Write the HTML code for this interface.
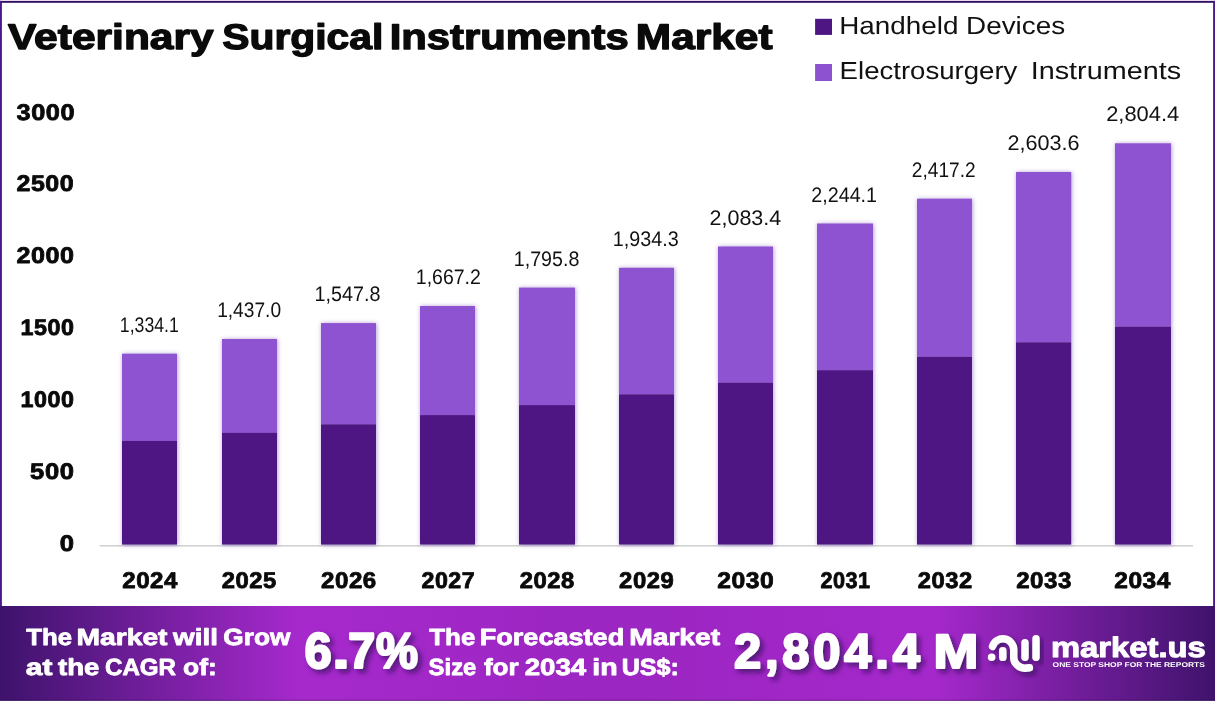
<!DOCTYPE html>
<html lang="en"><head><meta charset="utf-8">
<title>Veterinary Surgical Instruments Market</title>
<style>
html,body{margin:0;padding:0;background:#fff;}
body{width:1215px;height:703px;overflow:hidden;}
svg{display:block;font-family:"Liberation Sans",Arial,Helvetica,sans-serif;text-rendering:geometricPrecision;}
</style></head><body>
<svg width="1215" height="703" viewBox="0 0 1215 703" role="img" aria-label="Veterinary Surgical Instruments Market bar chart">
<defs>
<linearGradient id="bg" x1="0" y1="0" x2="1" y2="0"><stop offset="0" stop-color="#3E136C"/><stop offset="0.245" stop-color="#A629CC"/><stop offset="0.5" stop-color="#9B26C1"/><stop offset="0.77" stop-color="#A528CB"/><stop offset="1" stop-color="#3F136C"/></linearGradient>
<filter id="ts" x="-10%" y="-25%" width="125%" height="160%"><feDropShadow dx="3.5" dy="3.5" stdDeviation="2.6" flood-color="#2e0a55" flood-opacity="0.7"/></filter>
<filter id="bs" x="-20%" y="-5%" width="140%" height="110%"><feDropShadow dx="0.6" dy="0.3" stdDeviation="2.1" flood-color="#6a3fae" flood-opacity="0.55"/></filter>
</defs>
<rect x="0" y="0" width="1215" height="703" fill="#fff"/>
<rect x="0" y="0" width="1215" height="1" fill="#fcf4ff"/>
<rect x="0" y="0.9" width="1215" height="1.9" fill="#33105f"/>
<rect x="0" y="0.9" width="1.9" height="606" fill="#4a1a8a"/>
<rect x="1213.1" y="0.9" width="1.9" height="606" fill="#4a1a8a"/>
<g font-weight="700" fill="#0a0a0a" stroke="#0a0a0a" stroke-width="1.3" stroke-linejoin="round">
<text y="49" font-size="35.76"><tspan x="8.14" textLength="205.55" lengthAdjust="spacingAndGlyphs">Veterinary</tspan> <tspan x="222.34" textLength="160.98" lengthAdjust="spacingAndGlyphs">Surgical</tspan> <tspan x="389.65" textLength="239.04" lengthAdjust="spacingAndGlyphs">Instruments</tspan> <tspan x="635.81" textLength="136.79" lengthAdjust="spacingAndGlyphs">Market</tspan></text>
</g>
<rect x="815.1" y="18.8" width="16.9" height="16.1" fill="#4D1682"/>
<rect x="815.1" y="64" width="16.9" height="17" fill="#8D52D0"/>
<g font-weight="400" fill="#111">
<text x="839.20" y="34" font-size="24.71" textLength="225.92" lengthAdjust="spacingAndGlyphs">Handheld Devices</text>
<text y="79" font-size="24.71"><tspan x="839.61" textLength="177.80" lengthAdjust="spacingAndGlyphs">Electrosurgery</tspan> <tspan x="1030.73" textLength="150.42" lengthAdjust="spacingAndGlyphs">Instruments</tspan></text>
</g>
<g font-weight="700" fill="#0a0a0a" stroke="#0a0a0a" stroke-width="0.8" stroke-linejoin="round">
<text x="59.77" y="551" font-size="22.59" letter-spacing="0.5" textLength="14.82" lengthAdjust="spacingAndGlyphs">0</text>
<text x="30.14" y="479" font-size="22.59" letter-spacing="0.5" textLength="44.32" lengthAdjust="spacingAndGlyphs">500</text>
<text x="20.52" y="407" font-size="22.59" letter-spacing="0.5" textLength="53.93" lengthAdjust="spacingAndGlyphs">1000</text>
<text x="20.52" y="335" font-size="22.59" letter-spacing="0.5" textLength="53.93" lengthAdjust="spacingAndGlyphs">1500</text>
<text x="16.43" y="263" font-size="22.59" letter-spacing="0.5" textLength="58.17" lengthAdjust="spacingAndGlyphs">2000</text>
<text x="16.44" y="191" font-size="22.59" letter-spacing="0.5" textLength="57.80" lengthAdjust="spacingAndGlyphs">2500</text>
<text x="16.59" y="120" font-size="22.59" letter-spacing="0.5" textLength="58.55" lengthAdjust="spacingAndGlyphs">3000</text>
</g>
<rect x="99.7" y="545" width="1093.3" height="1.6" fill="#d2d2d2"/>
<g filter="url(#bs)">
<rect x="122.0" y="353.7" width="55.0" height="87.2" fill="#8D52D0"/>
<rect x="122.0" y="440.9" width="55.0" height="103.7" fill="#4D1682"/>
<rect x="222.0" y="339.0" width="55.0" height="94.0" fill="#8D52D0"/>
<rect x="222.0" y="432.9" width="55.0" height="111.7" fill="#4D1682"/>
<rect x="321.0" y="323.1" width="55.0" height="101.2" fill="#8D52D0"/>
<rect x="321.0" y="424.3" width="55.0" height="120.3" fill="#4D1682"/>
<rect x="420.0" y="306.0" width="55.0" height="109.0" fill="#8D52D0"/>
<rect x="420.0" y="415.1" width="55.0" height="129.5" fill="#4D1682"/>
<rect x="519.0" y="287.6" width="56.0" height="117.4" fill="#8D52D0"/>
<rect x="519.0" y="405.1" width="56.0" height="139.5" fill="#4D1682"/>
<rect x="619.0" y="267.8" width="55.0" height="126.5" fill="#8D52D0"/>
<rect x="619.0" y="394.3" width="55.0" height="150.3" fill="#4D1682"/>
<rect x="718.0" y="246.5" width="55.0" height="136.2" fill="#8D52D0"/>
<rect x="718.0" y="382.7" width="55.0" height="161.9" fill="#4D1682"/>
<rect x="817.0" y="223.5" width="56.0" height="146.8" fill="#8D52D0"/>
<rect x="817.0" y="370.2" width="56.0" height="174.4" fill="#4D1682"/>
<rect x="917.0" y="198.7" width="55.0" height="158.1" fill="#8D52D0"/>
<rect x="917.0" y="356.8" width="55.0" height="187.8" fill="#4D1682"/>
<rect x="1016.0" y="172.0" width="55.2" height="170.3" fill="#8D52D0"/>
<rect x="1016.0" y="342.3" width="55.2" height="202.3" fill="#4D1682"/>
<rect x="1115.0" y="143.3" width="56.0" height="183.4" fill="#8D52D0"/>
<rect x="1115.0" y="326.7" width="56.0" height="217.9" fill="#4D1682"/>
</g>
<g font-weight="400" fill="#111">
<text x="119.85" y="332" font-size="21.01" textLength="58.93" lengthAdjust="spacingAndGlyphs">1,334.1</text>
<text x="217.14" y="317" font-size="21.01" textLength="63.95" lengthAdjust="spacingAndGlyphs">1,437.0</text>
<text x="314.50" y="301" font-size="21.01" textLength="65.87" lengthAdjust="spacingAndGlyphs">1,547.8</text>
<text x="415.81" y="284" font-size="21.01" textLength="65.06" lengthAdjust="spacingAndGlyphs">1,667.2</text>
<text x="513.80" y="266" font-size="21.01" textLength="65.54" lengthAdjust="spacingAndGlyphs">1,795.8</text>
<text x="612.80" y="246" font-size="21.01" textLength="65.90" lengthAdjust="spacingAndGlyphs">1,934.3</text>
<text x="709.50" y="225" font-size="21.01" textLength="71.75" lengthAdjust="spacingAndGlyphs">2,083.4</text>
<text x="811.30" y="202" font-size="21.01" textLength="65.76" lengthAdjust="spacingAndGlyphs">2,244.1</text>
<text x="911.83" y="177" font-size="21.01" textLength="63.85" lengthAdjust="spacingAndGlyphs">2,417.2</text>
<text x="1007.49" y="150" font-size="21.01" textLength="72.05" lengthAdjust="spacingAndGlyphs">2,603.6</text>
<text x="1106.18" y="121" font-size="21.01" textLength="73.05" lengthAdjust="spacingAndGlyphs">2,804.4</text>
</g>
<g font-weight="700" fill="#0a0a0a" stroke="#0a0a0a" stroke-width="0.8" stroke-linejoin="round">
<text x="122.27" y="588" font-size="22.73" letter-spacing="0.5" textLength="55.69" lengthAdjust="spacingAndGlyphs">2024</text>
<text x="221.68" y="588" font-size="22.73" letter-spacing="0.5" textLength="55.00" lengthAdjust="spacingAndGlyphs">2025</text>
<text x="321.07" y="588" font-size="22.73" letter-spacing="0.5" textLength="55.71" lengthAdjust="spacingAndGlyphs">2026</text>
<text x="421.50" y="588" font-size="22.73" letter-spacing="0.5" textLength="53.72" lengthAdjust="spacingAndGlyphs">2027</text>
<text x="519.68" y="588" font-size="22.73" letter-spacing="0.5" textLength="55.07" lengthAdjust="spacingAndGlyphs">2028</text>
<text x="619.08" y="588" font-size="22.73" letter-spacing="0.5" textLength="55.22" lengthAdjust="spacingAndGlyphs">2029</text>
<text x="717.15" y="588" font-size="22.73" letter-spacing="0.5" textLength="57.11" lengthAdjust="spacingAndGlyphs">2030</text>
<text x="820.56" y="588" font-size="22.73" letter-spacing="0.5" textLength="50.04" lengthAdjust="spacingAndGlyphs">2031</text>
<text x="917.78" y="588" font-size="22.73" letter-spacing="0.5" textLength="54.96" lengthAdjust="spacingAndGlyphs">2032</text>
<text x="1016.17" y="588" font-size="22.73" letter-spacing="0.5" textLength="55.69" lengthAdjust="spacingAndGlyphs">2033</text>
<text x="1114.26" y="588" font-size="22.73" letter-spacing="0.5" textLength="56.72" lengthAdjust="spacingAndGlyphs">2034</text>
</g>
<rect x="0" y="606" width="1215" height="94.8" fill="url(#bg)"/>
<rect x="0" y="699.8" width="1215" height="1" fill="#1d0638" fill-opacity="0.45"/>
<g font-weight="700" fill="#fff" stroke="#fff" stroke-width="0.8" stroke-linejoin="round">
<text y="645" font-size="23.26"><tspan x="26.39" textLength="45.81" lengthAdjust="spacingAndGlyphs">The</tspan> <tspan x="76.40" textLength="91.15" lengthAdjust="spacingAndGlyphs">Market</tspan> <tspan x="173.12" textLength="44.86" lengthAdjust="spacingAndGlyphs">will</tspan> <tspan x="223.36" textLength="67.04" lengthAdjust="spacingAndGlyphs">Grow</tspan></text>
<text y="675" font-size="23.26"><tspan x="25.76" textLength="26.62" lengthAdjust="spacingAndGlyphs">at</tspan> <tspan x="57.95" textLength="41.43" lengthAdjust="spacingAndGlyphs">the</tspan> <tspan x="104.97" textLength="71.09" lengthAdjust="spacingAndGlyphs">CAGR</tspan> <tspan x="183.08" textLength="33.66" lengthAdjust="spacingAndGlyphs">of:</tspan></text>
</g>
<g font-weight="700" fill="#fff" stroke="#fff" stroke-width="2.2" stroke-linejoin="round" filter="url(#ts)">
<text y="668" font-size="50.36"><tspan x="304.50" textLength="27.14" lengthAdjust="spacingAndGlyphs">6</tspan><tspan x="332.55" textLength="16.95" lengthAdjust="spacingAndGlyphs">.</tspan><tspan x="347.90" textLength="27.26" lengthAdjust="spacingAndGlyphs">7</tspan><tspan x="376.08" textLength="41.98" lengthAdjust="spacingAndGlyphs">%</tspan></text>
</g>
<g font-weight="700" fill="#fff" stroke="#fff" stroke-width="0.8" stroke-linejoin="round">
<text y="645" font-size="23.26"><tspan x="429.29" textLength="46.01" lengthAdjust="spacingAndGlyphs">The</tspan> <tspan x="479.68" textLength="144.57" lengthAdjust="spacingAndGlyphs">Forecasted</tspan> <tspan x="629.20" textLength="90.96" lengthAdjust="spacingAndGlyphs">Market</tspan></text>
<text y="675" font-size="23.26"><tspan x="428.64" textLength="47.67" lengthAdjust="spacingAndGlyphs">Size</tspan> <tspan x="483.95" textLength="34.74" lengthAdjust="spacingAndGlyphs">for</tspan> <tspan x="524.74" textLength="61.51" lengthAdjust="spacingAndGlyphs">2034</tspan> <tspan x="592.21" textLength="25.38" lengthAdjust="spacingAndGlyphs">in</tspan> <tspan x="621.69" textLength="57.25" lengthAdjust="spacingAndGlyphs">US$:</tspan></text>
</g>
<g font-weight="700" fill="#fff" stroke="#fff" stroke-width="2.2" stroke-linejoin="round" filter="url(#ts)">
<text y="668" font-size="48.78"><tspan x="733.91" font-size="48.78" textLength="185.98" lengthAdjust="spacing">2,804.4</tspan> <tspan x="933.57" font-size="48.26" textLength="44.85" lengthAdjust="spacingAndGlyphs">M</tspan></text>
</g>
<g filter="url(#ts)" fill="none" stroke="#fff" stroke-width="7.4" stroke-linecap="round" stroke-linejoin="round">
<path d="M992.5 646.4 A10.85 10.85 0 0 1 1013.7 649.6 L1013.7 657.2 A11 11 0 0 0 1024.7 668.2 L1029.4 667.8"/>
<path d="M1002.8 650.7 L1002.8 657.4"/>
<path d="M1025 642.8 L1025 657.3"/>
<path d="M1036 638.7 L1036 657.3"/>
<circle cx="991.6" cy="657.2" r="3.75" fill="#fff" stroke="none"/>
</g>
<g font-weight="700" fill="#fff" stroke="#fff" stroke-width="1.0" stroke-linejoin="round">
<text x="1050.98" y="657" font-size="28.2" textLength="154.89" lengthAdjust="spacingAndGlyphs">market.us</text>
</g>
<g font-weight="700" fill="#fff">
<text x="1052.62" y="667" font-size="6.98" textLength="152.28" lengthAdjust="spacingAndGlyphs">ONE STOP SHOP FOR THE REPORTS</text>
</g>
</svg>
</body></html>
